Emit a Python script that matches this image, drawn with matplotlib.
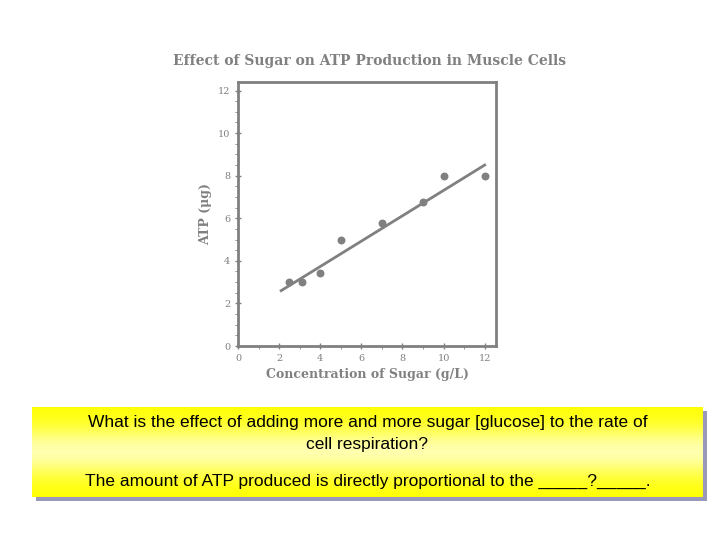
import matplotlib
matplotlib.use("Agg")
import matplotlib.pyplot as plt
import numpy as np
from matplotlib.patches import Rectangle

sugar = [2.5, 3.1, 4, 5, 7, 9, 10, 12]
atp = [3.0, 3.0, 3.45, 5.0, 5.8, 6.75, 8.0, 8.0]
fit_x = [2.1, 12.0]
fit_y = [2.6, 8.5]
xticks = [0, 2, 4, 6, 8, 10, 12]
yticks = [0, 2, 4, 6, 8, 10, 12]

fig = plt.figure(figsize=(7.2, 5.4), dpi=100)
gray = "#808080"
ax = fig.add_axes([238/720, 1-346/540, (496-238)/720, (346-82)/540])
ax.scatter(sugar, atp, s=22, color=gray, zorder=3)
ax.plot(fit_x, fit_y, color=gray, lw=2)
ax.set_xlim(0, 12.55)
ax.set_ylim(0, 12.4)
ax.set_xticks(xticks)
ax.set_yticks(yticks)
ax.set_xticks(np.arange(0, 12.6, 1), minor=True)
ax.set_yticks(np.arange(0, 12.5, 0.5), minor=True)
for s in ax.spines.values():
    s.set_color(gray); s.set_linewidth(2)
ax.tick_params(colors=gray, labelsize=7, width=1, length=4, direction="inout")
ax.tick_params(which="minor", colors=gray, length=2)
for lab in ax.get_xticklabels() + ax.get_yticklabels():
    lab.set_fontfamily("DejaVu Serif")
ax.set_xlabel("Concentration of Sugar (g/L)", color=gray, fontsize=9, family="DejaVu Serif", fontweight="bold")
ax.set_ylabel("ATP (μg)", color=gray, fontsize=9, family="DejaVu Serif", fontweight="bold")
fig.text(370/720, 1-61/540, "Effect of Sugar on ATP Production in Muscle Cells", ha="center", va="center",
         color=gray, fontsize=10, family="DejaVu Serif", fontweight="bold")

# yellow text box
bx0, bx1, by0, by1 = 32/720, 703/720, 1-497/540, 1-407/540
shadow = Rectangle((bx0+4/720, by0-4/540), bx1-bx0, by1-by0, transform=fig.transFigure,
                   facecolor="#9999bb", edgecolor="none", zorder=-1)
fig.add_artist(shadow)
bax = fig.add_axes([bx0, by0, bx1-bx0, by1-by0], zorder=2)
t = np.linspace(0, 1, 100)
c = 1 - 0.8*np.exp(-((t-0.5)/0.28)**2)
grad = np.zeros((100, 1, 3))
grad[:, 0, 0] = 1; grad[:, 0, 1] = 1; grad[:, 0, 2] = 0.85*(1-c)
bax.imshow(grad, aspect="auto", extent=[0, 1, 0, 1])
bax.set_axis_off()
bax.text(0.5, 0.83, "What is the effect of adding more and more sugar [glucose] to the rate of",
         ha="center", va="center", fontsize=12.5, family="Liberation Sans")
bax.text(0.5, 0.58, "cell respiration?", ha="center", va="center", fontsize=12.5, family="Liberation Sans")
bax.text(0.5, 0.17, "The amount of ATP produced is directly proportional to the _____?_____.",
         ha="center", va="center", fontsize=12.5, family="Liberation Sans")
fig.savefig("out.png", dpi=100)
